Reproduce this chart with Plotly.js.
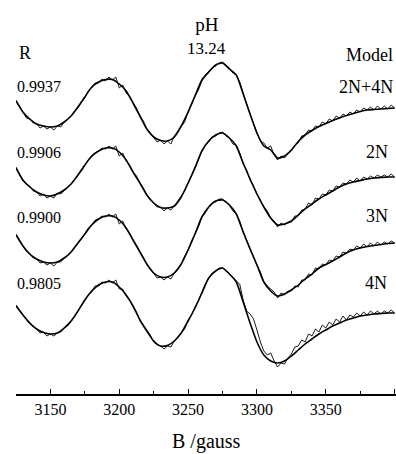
<!DOCTYPE html>
<html>
<head>
<meta charset="utf-8">
<script src="https://cdn.plot.ly/plotly-3.0.1.min.js"></script>
<style>html,body{margin:0;padding:0;background:#fff;}#chart{width:396px;height:454px;}</style>
</head>
<body>
<div id="chart"></div>
<script>
// Magnetic field (gauss) sample positions
const fieldFit = [3125,3130,3135,3140,3145,3150,3155,3160,3165,3170,3175,3180,3185,3190,3195,3200,3205,3210,3215,3220,3225,3230,3235,3240,3245,3250,3255,3260,3265,3270,3275,3280,3285,3290,3295,3300,3305,3310,3315,3320,3325,3330,3335,3340,3345,3350,3355,3360,3365,3370,3375,3380,3385,3390,3395,3400];
const fieldExp = [3125,3127.5,3130,3132.5,3135,3137.5,3140,3142.5,3145,3147.5,
3150,3152.5,3155,3157.5,3160,3162.5,3165,3167.5,3170,3172.5,
3175,3177.5,3180,3182.5,3185,3187.5,3190,3192.5,3195,3197.5,
3200,3202.5,3205,3207.5,3210,3212.5,3215,3217.5,3220,3222.5,
3225,3227.5,3230,3232.5,3235,3237.5,3240,3242.5,3245,3247.5,
3250,3252.5,3255,3257.5,3260,3262.5,3265,3267.5,3270,3272.5,
3275,3277.5,3280,3282.5,3285,3287.5,3290,3292.5,3295,3297.5,
3300,3302.5,3305,3307.5,3310,3312.5,3315,3317.5,3320,3322.5,
3325,3327.5,3330,3332.5,3335,3337.5,3340,3342.5,3345,3347.5,
3350,3352.5,3355,3357.5,3360,3362.5,3365,3367.5,3370,3372.5,
3375,3377.5,3380,3382.5,3385,3387.5,3390,3392.5,3395,3397.5,
3400];

// Model labels and correlation coefficients
const models = ['2N+4N','2N','3N','4N'];
const rValues = ['0.9937','0.9906','0.9900','0.9805'];

// Simulated (fit) spectra, arbitrary units
const fit1 = [9,-2,-9,-14,-16,-17,-16,-12,-6,3, 13,23,28,30.5,30.5,26,19,7,-6,-19, -27,-30.5,-31,-27,-16,-2,14,30,38,45, 47,41,35,16,-4,-23,-36,-40,-48,-46, -40,-31.5,-25,-20.5,-16.5,-13.5,-10.5,-8,-5.5,-3.5, -1.5,0,0.5,1,1.5,2];
const fit2 = [10,-2,-9,-14,-17,-18,-16,-12,-6,3, 13,22,27,30,30,26,18,6,-5,-17, -25,-29.5,-30,-28,-19,-5,10,27,37,43, 45,40,32,15,-1,-16,-29,-40,-47,-46, -43,-37,-31,-26,-21,-17,-13,-9,-6,-4, -2.5,-1,0,0.5,1,1];
const fit3 = [11,0,-8,-13,-16,-17,-16,-12,-6,3, 12,21,27,30,30,26,18,6,-6,-18, -27,-31,-31,-27,-18,-4,12,29,39,45, 46,41,32,14,-3,-19,-36,-45,-50,-48, -44,-39,-33,-28,-22,-18.5,-15,-11,-7,-4, -2,-0.5,0.5,1.5,2.5,3];
const fit4 = [8,-1,-9,-15,-18.5,-20,-19,-14,-7,3, 14,23,29,32,32,27,19,8,-6,-17, -27,-32,-31.5,-27,-19,-7,6,21,36,43, 46,40,32,12,-9,-28,-41,-47,-49,-47, -42,-36,-30,-25,-20,-16,-12,-9,-6,-4, -2,-1,0,0.5,1,1];

// Experimental spectra, arbitrary units
const exp1 = [10,4,-2,-8,-9,-13,-14,-18,-16,-19,
-17,-20,-16,-17,-12,-9,-6,-1,2,8,
12,19,22,27,27,31,29,33,30,33,
22,25,17,14,7,2,-6,-11,-19,-23,
-27,-32,-30,-34,-31,-34,-26,-21,-16,-12,
-2,7,14,20,29,35,38,42,44,47,
48,45,42,37,35,28,16,6,-4,-14,
-23,-31,-33,-38,-36,-45,-50,-46,-48,-44,
-41,-35,-33,-26,-25,-20,-21,-16,-17,-12,
-14,-9,-11,-6,-8,-4,-6,-2,-4,0,
-2,2,0,3,0,4,1,4,1,5,
2];
const exp2 = [11,4,-3,-6,-8,-13,-14,-18,-16,-20,
-18,-20,-15,-16,-12,-9,-6,-1,3,7,
12,18,21,25,27,30,29,32,29,32,
22,25,17,13,6,2,-5,-10,-17,-21,
-25,-29,-29,-33,-30,-32,-28,-23,-19,-13,
-5,3,10,18,27,33,36,41,42,45,
46,42,40,34,33,25,14,8,-2,-8,
-16,-22,-29,-33,-40,-43,-49,-45,-47,-44,
-44,-38,-38,-32,-31,-25,-27,-20,-21,-16,
-17,-12,-13,-8,-9,-5,-6,-2,-4,0,
-3,1,-1,2,0,3,1,3,1,4,
1];
const exp3 = [12,6,0,-5,-8,-12,-13,-17,-16,-19,
-17,-20,-16,-16,-12,-10,-6,-1,3,7,
12,18,21,26,27,30,29,32,29,32,
22,25,17,13,6,1,-6,-11,-18,-23,
-27,-32,-31,-34,-31,-33,-27,-22,-18,-10,
-4,5,12,19,29,33,39,43,44,47,
47,44,41,35,32,25,14,6,-3,-10,
-19,-26,-36,-40,-43,-46,-52,-47,-49,-45,
-45,-40,-41,-34,-34,-28,-29,-22,-23,-18,
-19,-14,-15,-10,-11,-6,-7,-3,-4,0,
-2,2,-1,3,0,4,1,4,2,5,
3];
const exp4 = [9,4,-1,-6,-10,-13,-15,-19,-18,-22,
-20,-22,-19,-18,-14,-12,-8,-3,3,8,
13,19,22,28,28,32,31,34,31,34,
25,25,18,14,8,2,-6,-11,-17,-21,
-28,-31,-32,-35,-32,-33,-27,-23,-18,-15,
-6,-1,7,13,22,30,36,41,43,46,
46,43,40,37,33,30,14,3,0,-5,
-16,-28,-37,-41,-39,-47,-53,-49,-50,-44,
-40,-33,-32,-26,-28,-20,-22,-15,-18,-11,
-14,-8,-11,-5,-8,-2,-6,-1,-3,1,
-2,2,-1,3,0,3,0,3,1,4,
1];

const fits = [fit1, fit2, fit3, fit4];
const exps = [exp1, exp2, exp3, exp4];

// Layout constants (stacking offsets and label placement, in pixels from top)
const stackOffset = [0, -68, -136, -204];
const rLabelY = [24, -42, -107, -173];
const modelLabelY = [23, -42, -106, -173];
const modelLabelX = [0.997, 0.984, 0.984, 0.981];
const PLOT_BOTTOM = 394, PLOT_H = 339;
const py = p => (PLOT_BOTTOM - p) / PLOT_H;

const SERIF = "'Liberation Serif', Tinos, 'Times New Roman', Times, 'Nimbus Roman', 'DejaVu Serif', serif";

const traces = [];
for (let i = 0; i < 4; i++) {
  traces.push({
    x: fieldExp, y: exps[i].map(v => v + stackOffset[i]),
    type: 'scatter', mode: 'lines', name: 'exp ' + models[i],
    line: {color: 'black', width: 0.9}, hoverinfo: 'skip'
  });
  traces.push({
    x: fieldFit, y: fits[i].map(v => v + stackOffset[i]),
    type: 'scatter', mode: 'lines', name: 'fit ' + models[i],
    line: {color: 'black', width: 1.6, shape: 'spline', smoothing: 0.6}, hoverinfo: 'skip'
  });
}

const annotations = [
  {text: 'R', xref: 'paper', yref: 'paper', x: 0.003, y: py(53), xanchor: 'left', yanchor: 'middle', showarrow: false, font: {size: 18, family: SERIF}},
  {text: 'Model', xref: 'paper', yref: 'paper', x: 0.997, y: py(55), xanchor: 'right', yanchor: 'middle', showarrow: false, font: {size: 18, family: SERIF}},
  {text: '13.24', xref: 'paper', yref: 'paper', x: 0.5026, y: py(48), xanchor: 'center', yanchor: 'middle', showarrow: false, font: {size: 17, family: SERIF}},
  {text: 'B /gauss', xref: 'paper', yref: 'paper', x: 0.5, y: py(441), xanchor: 'center', yanchor: 'middle', showarrow: false, font: {size: 20, family: SERIF}}
];
for (let i = 0; i < 4; i++) {
  annotations.push({text: rValues[i], xref: 'paper', yref: 'y', x: -0.003, y: rLabelY[i], xanchor: 'left', yanchor: 'middle', showarrow: false, font: {size: 16, family: SERIF}});
  annotations.push({text: models[i], xref: 'paper', yref: 'y', x: modelLabelX[i], y: modelLabelY[i], xanchor: 'right', yanchor: 'middle', showarrow: false, font: {size: 18, family: SERIF}});
}

const layout = {
  width: 396, height: 454,
  margin: {l: 16, r: 0, t: 55, b: 60, pad: 0},
  paper_bgcolor: 'white', plot_bgcolor: 'white',
  showlegend: false,
  font: {family: SERIF, color: 'black'},
  title: {text: 'pH', font: {size: 19, family: SERIF, color: 'black'},
          xref: 'container', x: 0.5227, xanchor: 'center',
          yref: 'container', y: 1 - 24 / 454, yanchor: 'middle'},
  xaxis: {
    range: [3125, 3401], showline: true, linecolor: 'black', linewidth: 1.5,
    ticks: 'inside', ticklen: 5, tickwidth: 1, tickcolor: 'black',
    tick0: 3150, dtick: 50,
    minor: {tick0: 3150, dtick: 25, ticks: 'inside', ticklen: 3, tickwidth: 1, tickcolor: 'black', showgrid: false},
    showgrid: false, zeroline: false,
    tickfont: {size: 16, family: SERIF, color: 'black'}
  },
  yaxis: {range: [-284, 55], visible: false, showgrid: false, zeroline: false},
  annotations: annotations
};

Plotly.newPlot('chart', traces, layout, {displayModeBar: false, staticPlot: true});
</script>
</body>
</html>
